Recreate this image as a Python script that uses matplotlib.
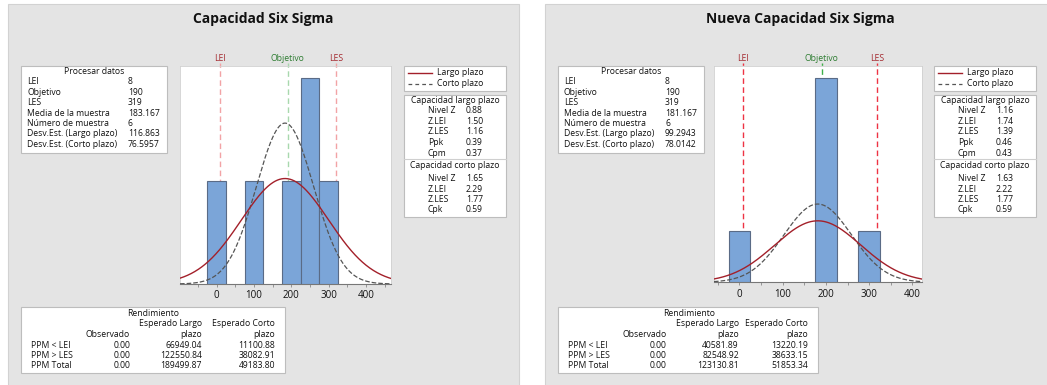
import numpy as np
import matplotlib
matplotlib.use("Agg")
import matplotlib.pyplot as plt
from matplotlib.patches import Rectangle
from matplotlib.lines import Line2D

W, H = 1047, 385

# specification limits
lei, objetivo, les = 8, 190, 319
n_muestra = 6
bin_width = 50

# panel 1: original process
centers_1 = [0, 100, 200, 250, 300]
counts_1 = [1, 1, 1, 2, 1]
media_1, sd_lp_1, sd_cp_1 = 183.167, 116.863, 76.5957
lp_1 = ["0.88", "1.50", "1.16", "0.39", "0.37"]
cp_1 = ["1.65", "2.29", "1.77", "0.59"]
ppm_obs_1 = ["0.00", "0.00", "0.00"]
ppm_lp_1 = ["66949.04", "122550.84", "189499.87"]
ppm_cp_1 = ["11100.88", "38082.91", "49183.80"]

# panel 2: improved process
centers_2 = [0, 200, 300]
counts_2 = [1, 4, 1]
media_2, sd_lp_2, sd_cp_2 = 181.167, 99.2943, 78.0142
lp_2 = ["1.16", "1.74", "1.39", "0.46", "0.43"]
cp_2 = ["1.63", "2.22", "1.77", "0.59"]
ppm_obs_2 = ["0.00", "0.00", "0.00"]
ppm_lp_2 = ["40581.89", "82548.92", "123130.81"]
ppm_cp_2 = ["13220.19", "38633.15", "51853.34"]

lp_labels = ["Nivel Z", "Z.LEI", "Z.LES", "Ppk", "Cpm"]
cp_labels = ["Nivel Z", "Z.LEI", "Z.LES", "Cpk"]
ppm_labels = ["PPM < LEI", "PPM > LES", "PPM Total"]

plt.rcParams["font.family"] = ["Open Sans", "DejaVu Sans"]
TXT = "#111111"
SMALL = 6.2

fig = plt.figure(figsize=(W / 100, H / 100), dpi=100)
fig.patch.set_facecolor("white")


def fx(x):
    return x / W


def fy(y):
    return 1 - y / H


def rect(x0, y0, x1, y1, fc, ec, lw=0.8, z=0):
    fig.patches.append(Rectangle((fx(x0), fy(y1)), fx(x1) - fx(x0), fy(y0) - fy(y1),
                                 transform=fig.transFigure, facecolor=fc, edgecolor=ec,
                                 linewidth=lw, zorder=z))


def txt(x, y, s, ha="left", size=SMALL, **kw):
    fig.text(fx(x), fy(y), s, ha=ha, va="center", fontsize=size, color=TXT, zorder=5, **kw)


def panel(ox, title, centers, counts, media, sd_lp, sd_cp, lp, cp, obs, ppm_lp, ppm_cp, geo):
    px0, px1, pbot, xmin, xmax, ymax = geo
    first = ox < 500
    rect(ox, 4, ox + 511, 386, "#e4e4e4", "#d2d2d2", z=-2)
    txt(ox + 255, 19, title, ha="center", size=10, weight="bold")

    # histogram with fitted normal curves
    ax = fig.add_axes([fx(px0), fy(pbot), fx(px1) - fx(px0), fy(66) - fy(pbot)])
    ax.set_zorder(3)
    ax.bar(centers, counts, width=bin_width, color="#7ba5d8", edgecolor="#5a6b86",
           linewidth=0.8, zorder=3)
    xs = np.linspace(xmin, xmax, 400)
    scale = n_muestra * bin_width
    for sd, style, col, lw in [(sd_cp, "--", "#555555", 0.9), (sd_lp, "-", "#a3202a", 1.0)]:
        pdf = np.exp(-0.5 * ((xs - media) / sd) ** 2) / (sd * np.sqrt(2 * np.pi))
        ax.plot(xs, pdf * scale, style, color=col, lw=lw, zorder=4)
    px_per_unit = (pbot - 66) / ymax
    top = ymax + 3.5 / px_per_unit
    lim_col = "#f2a3a5" if first else "#ee3344"
    obj_col = "#a8d8ad" if first else "#3fb04a"
    for xv, c, lab, lc in [(lei, lim_col, "LEI", "#a4282e"), (objetivo, obj_col, "Objetivo", "#2e7d32"),
                           (les, lim_col, "LES", "#a4282e")]:
        ax.plot([xv, xv], [0, top], "--", color=c, lw=1.0, dashes=(4, 2.5), clip_on=False, zorder=1)
        ax.text(xv, ymax + 7.5 / px_per_unit, lab, ha="center", va="center", fontsize=SMALL, color=lc)
    ticks = [v for v in range(-50, 451, 50) if xmin <= v <= xmax]
    ax.set_xticks(ticks)
    ax.set_xticklabels(["" if v % 100 else str(v) for v in ticks])
    ax.set_xlim(xmin, xmax)
    ax.set_ylim(0, ymax)
    ax.tick_params(axis="x", length=2.5, width=0.6, colors="#888888", labelcolor=TXT,
                   labelsize=7, pad=2)
    ax.set_yticks([])
    for s in ["top", "left", "right"]:
        ax.spines[s].set_color("#d0d0d0")
        ax.spines[s].set_linewidth(0.6)
    ax.spines["bottom"].set_color("#777777")
    ax.spines["bottom"].set_linewidth(0.8)

    # process data box
    bx = ox + 13
    rect(bx, 66, bx + 146, 153, "white", "#bdbdbd")
    txt(bx + 73, 72, "Procesar datos", ha="center")
    rows = [("LEI", str(lei)), ("Objetivo", str(objetivo)), ("LES", str(les)),
            ("Media de la muestra", f"{media:.3f}"), ("Número de muestra", str(n_muestra)),
            ("Desv.Est. (Largo plazo)", f"{sd_lp:g}"), ("Desv.Est. (Corto plazo)", f"{sd_cp:g}")]
    for i, (k, v) in enumerate(rows):
        y = 82 + i * 10.4
        txt(bx + 6, y, k)
        txt(bx + 107, y, v)

    # legend box
    lx = ox + 396 if first else ox + 389
    rect(lx, 66, lx + 102, 91, "white", "#bdbdbd")
    fig.add_artist(Line2D([fx(lx + 4), fx(lx + 28)], [fy(73), fy(73)], color="#a3202a", lw=1.0,
                          transform=fig.transFigure))
    fig.add_artist(Line2D([fx(lx + 4), fx(lx + 28)], [fy(83.5), fy(83.5)], color="#555555", lw=0.9,
                          ls="--", dashes=(3, 2.5), transform=fig.transFigure))
    txt(lx + 33, 72.5, "Largo plazo")
    txt(lx + 33, 83, "Corto plazo")

    # capability box
    rect(lx, 95, lx + 102, 217, "white", "#bdbdbd")
    fig.add_artist(Line2D([fx(lx), fx(lx + 102)], [fy(159), fy(159)], color="#cfcfcf", lw=0.8,
                          transform=fig.transFigure))
    txt(lx + 51, 100.5, "Capacidad largo plazo", ha="center")
    for i, (k, v) in enumerate(zip(lp_labels, lp)):
        y = 110.5 + i * 10.65
        txt(lx + 24, y, k)
        txt(lx + 62, y, v)
    txt(lx + 51, 165.5, "Capacidad corto plazo", ha="center")
    for i, (k, v) in enumerate(zip(cp_labels, cp)):
        y = 178.5 + i * 10.5
        txt(lx + 24, y, k)
        txt(lx + 62, y, v)

    # yield box
    rw = 264 if first else 260
    rect(bx, 307, bx + rw, 373, "white", "#bdbdbd")
    c1, c2, c3 = bx + 109, bx + 181, (bx + 254 if first else bx + 250)
    txt(bx + (132 if first else 131), 314, "Rendimiento", ha="center")
    txt(c2, 324, "Esperado Largo", ha="right")
    txt(c3, 324, "Esperado Corto", ha="right")
    txt(c1, 334.5, "Observado", ha="right")
    txt(c2, 334.5, "plazo", ha="right")
    txt(c3, 334.5, "plazo", ha="right")
    for i, lab in enumerate(ppm_labels):
        y = 345.5 + i * 10.2
        txt(bx + 10, y, lab)
        txt(c1, y, obs[i], ha="right")
        txt(c2, y, ppm_lp[i], ha="right")
        txt(c3, y, ppm_cp[i], ha="right")


panel(8, "Capacidad Six Sigma", centers_1, counts_1, media_1, sd_lp_1, sd_cp_1,
      lp_1, cp_1, ppm_obs_1, ppm_lp_1, ppm_cp_1, (180, 391, 284, -98, 467, 2.117))
panel(545, "Nueva Capacidad Six Sigma", centers_2, counts_2, media_2, sd_lp_2, sd_cp_2,
      lp_2, cp_2, ppm_obs_2, ppm_lp_2, ppm_cp_2, (714, 922, 282.3, -58.5, 422, 4.24))

fig.savefig("out.png", dpi=100)
